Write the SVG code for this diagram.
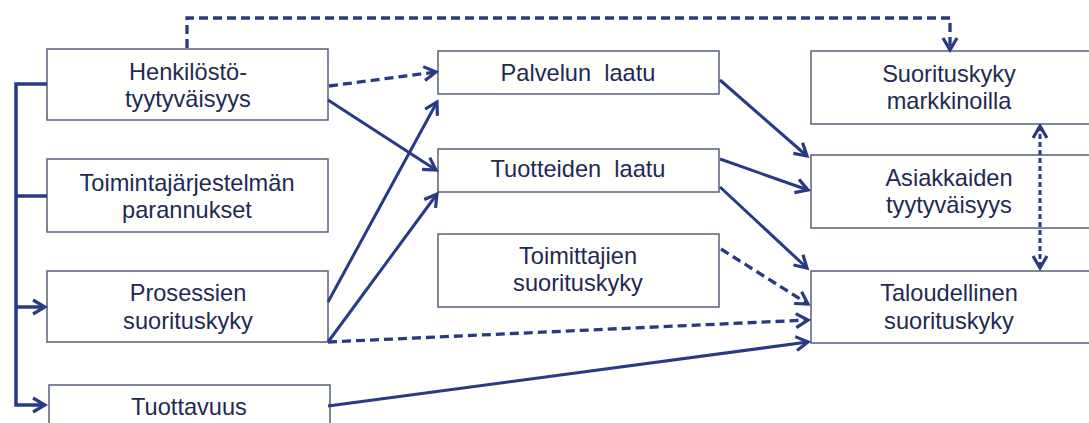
<svg xmlns="http://www.w3.org/2000/svg" width="1089" height="423" viewBox="0 0 1089 423">
  <style>
    .box { fill: #fffffe; stroke: #56627a; stroke-width: 1.5; }
    .lbl { font-family: "Liberation Sans", Arial, sans-serif; font-size: 23.6px; fill: #1e2a52; text-anchor: middle; }
    .ln { fill: none; stroke: #283a84; stroke-width: 3; }
    .dash { stroke-dasharray: 9 5; stroke-width: 3.3; }
    .fine { stroke-dasharray: 5 3; }
  </style>
  <defs>
    <marker id="arrow" markerUnits="userSpaceOnUse" markerWidth="18" markerHeight="18" viewBox="0 0 18 18" refX="15" refY="9" orient="auto">
      <path d="M3,2 L15,9 L3,16" fill="none" stroke="#283a84" stroke-width="3.2"/>
    </marker>
    <marker id="arrowStart" markerUnits="userSpaceOnUse" markerWidth="18" markerHeight="18" viewBox="0 0 18 18" refX="3" refY="9" orient="auto">
      <path d="M15,2 L3,9 L15,16" fill="none" stroke="#283a84" stroke-width="3.2"/>
    </marker>
  </defs>

  <rect width="1089" height="423" fill="#ffffff"/>

  <!-- left column -->
  <g id="henkilosto">
    <rect class="box" x="47" y="49" width="281" height="71"/>
    <text class="lbl" x="188" y="80">Henkilöstö-</text>
    <text class="lbl" x="188" y="107">tyytyväisyys</text>
  </g>
  <g id="toimintajarjestelma">
    <rect class="box" x="47" y="159" width="281" height="73"/>
    <text class="lbl" x="187" y="191">Toimintajärjestelmän</text>
    <text class="lbl" x="187" y="218">parannukset</text>
  </g>
  <g id="prosessit">
    <rect class="box" x="47" y="271" width="281" height="71"/>
    <text class="lbl" x="188" y="301">Prosessien</text>
    <text class="lbl" x="188" y="329">suorituskyky</text>
  </g>
  <g id="tuottavuus">
    <rect class="box" x="49" y="385" width="281" height="71"/>
    <text class="lbl" x="189" y="415">Tuottavuus</text>
  </g>

  <!-- middle column -->
  <g id="palvelu">
    <rect class="box" x="438" y="51" width="281" height="43"/>
    <text class="lbl" x="578" y="81" xml:space="preserve">Palvelun  laatu</text>
  </g>
  <g id="tuotteet">
    <rect class="box" x="438" y="149" width="281" height="43"/>
    <text class="lbl" x="578" y="177" xml:space="preserve">Tuotteiden  laatu</text>
  </g>
  <g id="toimittajat">
    <rect class="box" x="438" y="234" width="281" height="73"/>
    <text class="lbl" x="578" y="264">Toimittajien</text>
    <text class="lbl" x="578" y="291">suorituskyky</text>
  </g>

  <!-- right column -->
  <g id="markkinat">
    <rect class="box" x="811" y="51" width="290" height="73"/>
    <text class="lbl" x="949" y="82">Suorituskyky</text>
    <text class="lbl" x="949" y="109">markkinoilla</text>
  </g>
  <g id="asiakkaat">
    <rect class="box" x="811" y="155" width="290" height="73"/>
    <text class="lbl" x="949" y="186">Asiakkaiden</text>
    <text class="lbl" x="949" y="213">tyytyväisyys</text>
  </g>
  <g id="talous">
    <rect class="box" x="811" y="271" width="290" height="72"/>
    <text class="lbl" x="949" y="301">Taloudellinen</text>
    <text class="lbl" x="949" y="329">suorituskyky</text>
  </g>

  <!-- connectors -->
  <g id="connectors">
    <!-- left bracket -->
    <path class="ln" d="M47,84 H16 V405 H45" marker-end="url(#arrow)" style="stroke-width:3.5"/>
    <path class="ln" d="M47,196 H16" style="stroke-width:3.5"/>
    <path class="ln" d="M16,307 H45" marker-end="url(#arrow)" style="stroke-width:3.5"/>

    <!-- top loop -->
    <path class="ln dash" d="M187,48 V18 H950 V50" marker-end="url(#arrow)"/>

    <!-- left to middle -->
    <path class="ln dash" d="M329,86 L436,72" marker-end="url(#arrow)"/>
    <path class="ln" d="M328,100 L436,170" marker-end="url(#arrow)"/>
    <path class="ln" d="M328,302 L437,102" marker-end="url(#arrow)"/>
    <path class="ln" d="M328,342 L437,194" marker-end="url(#arrow)"/>

    <!-- left to right -->
    <path class="ln dash" d="M328,342 L808,320" marker-end="url(#arrow)"/>
    <path class="ln" d="M328,406 L808,342" marker-end="url(#arrow)"/>

    <!-- middle to right -->
    <path class="ln" d="M720,80 L807,156" marker-end="url(#arrow)"/>
    <path class="ln" d="M720,159 L808,190" marker-end="url(#arrow)"/>
    <path class="ln" d="M720,187 L807,268" marker-end="url(#arrow)"/>
    <path class="ln dash" d="M721,249 L808,304" marker-end="url(#arrow)"/>

    <!-- right column link -->
    <path class="ln fine" d="M1040,126 V268" marker-start="url(#arrowStart)" marker-end="url(#arrow)"/>
  </g>
</svg>
